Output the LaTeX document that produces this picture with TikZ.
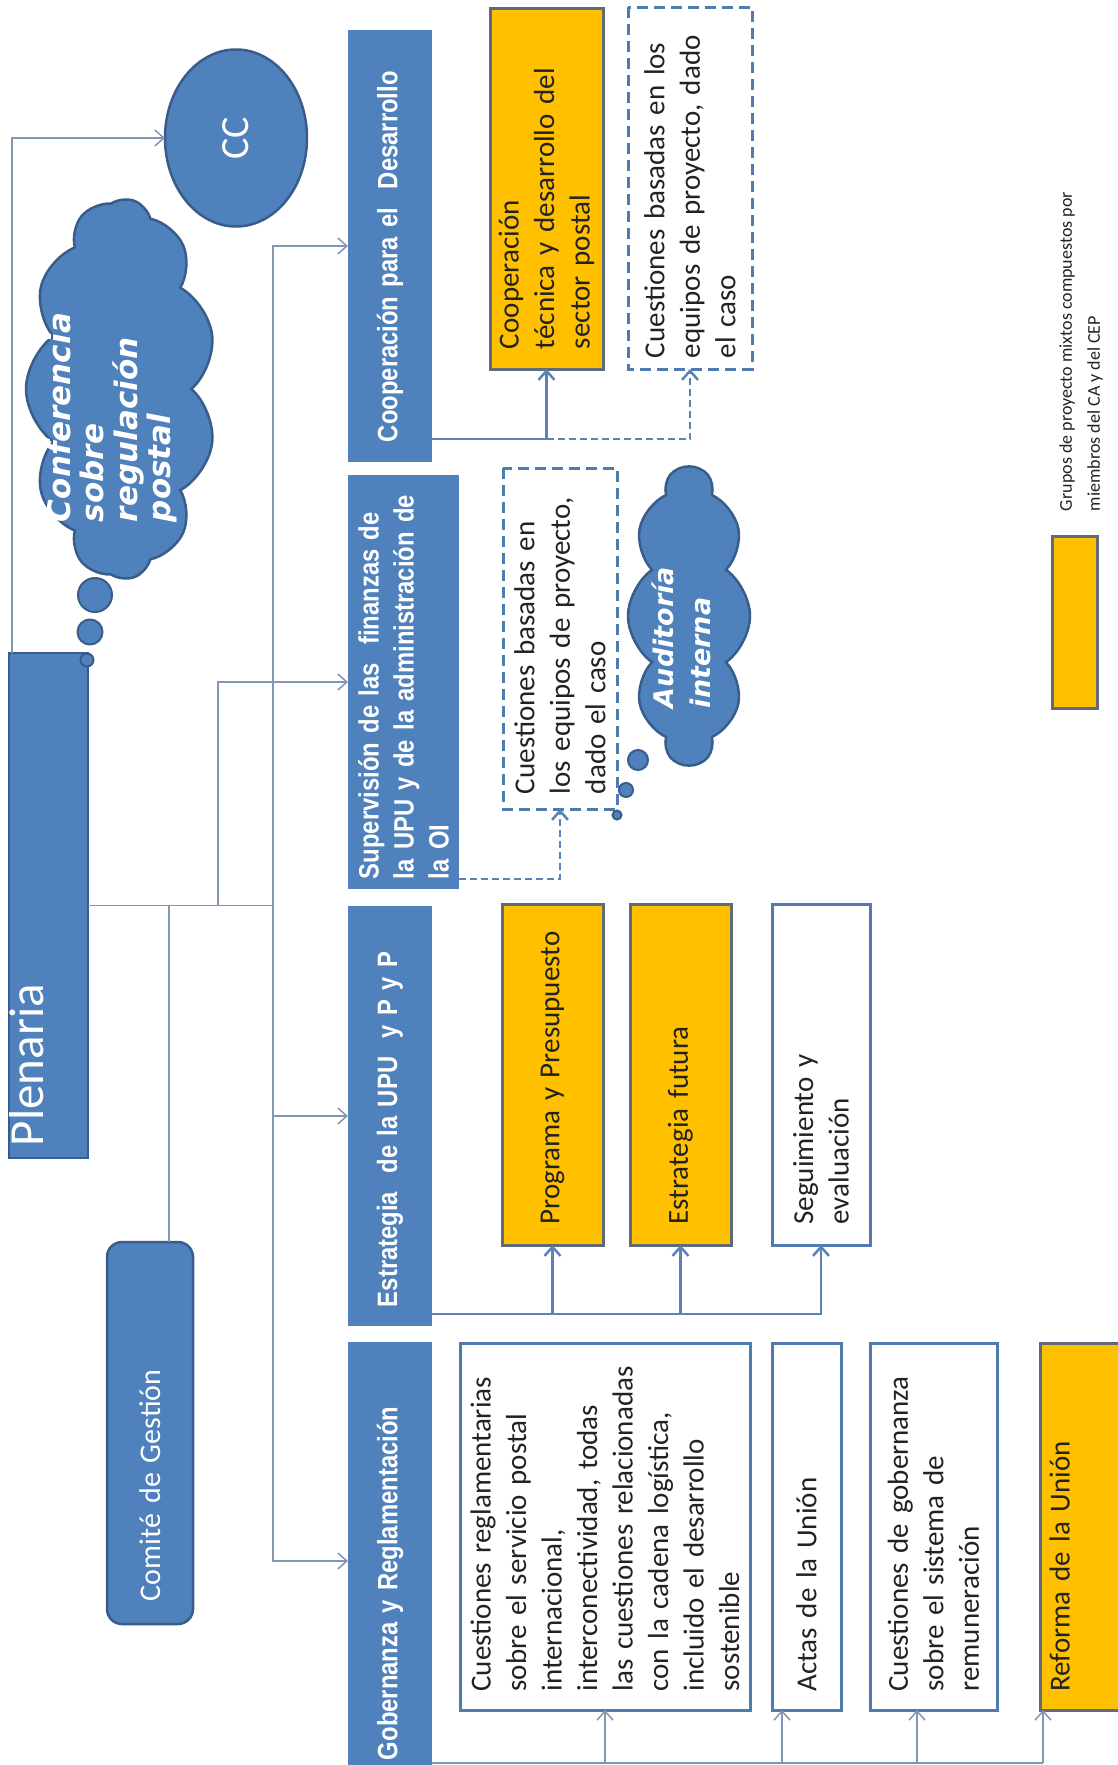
\documentclass[tikz,border=0pt]{standalone}
\usepackage{fontspec}
\setmainfont{Carlito}
\newfontfamily\hdrfont{Liberation Sans}[FakeStretch=0.85]
\newfontfamily\cloudfont{DejaVu Sans}[BoldFont={DejaVu Sans Bold},ItalicFont={DejaVu Sans Oblique},BoldItalicFont={DejaVu Sans Bold Oblique}]
\usetikzlibrary{shapes.geometric,shapes.symbols,arrows.meta,calc}
\definecolor{ublue}{HTML}{4F81BD}
\definecolor{udark}{HTML}{385D8A}
\definecolor{uorange}{HTML}{FFC000}
\definecolor{ugrey}{HTML}{5F6B78}
\definecolor{uline}{HTML}{8097B4}
\definecolor{uline2}{HTML}{5A84B8}
\definecolor{ubord}{HTML}{4F7BB0}
\definecolor{utext}{HTML}{222222}
\begin{document}
\begin{tikzpicture}[x=1pt,y=-1pt,
  every node/.style={inner sep=0pt, outer sep=0pt},
  hdr/.style={rotate=90, fill=ublue, text=white, font=\hdrfont\bfseries\fontsize{28}{35}\selectfont, align=left},
  subbox/.style={rotate=90, draw, line width=3pt, text=utext, font=\fontsize{29}{35.5}\selectfont, align=left},
  orangebox/.style={subbox, fill=uorange, draw=ugrey},
  whitebox/.style={subbox, fill=white, draw=ubord},
  dashbox/.style={subbox, fill=white, draw=ubord, dash pattern=on 11pt off 6pt},
  conn/.style={draw=uline, line width=1.5pt},
  conn2/.style={draw=uline2, line width=2.5pt},
  tip/.style={-{Straight Barb[length=9pt,width=16pt]}},
  bubble/.style={circle, fill=ublue, draw=udark, line width=2pt},
  cloudbox/.style={cloud, cloud ignores aspect, rotate=90, fill=ublue, draw=udark, line width=2.5pt},
  cloudtxt/.style={rotate=90, text=white, align=left, anchor=west}
]
\useasboundingbox (0,0) rectangle (1118,1765);
\fill[white] (0,0) rectangle (1118,1765);

% Plenaria
\node[rotate=90, fill=ublue, draw=udark, line width=2.5pt, minimum width=505pt, minimum height=79pt] (plen) at (48.5,905.5) {};
\node[rotate=90, anchor=base west, text=white, font=\fontsize{49}{52}\selectfont] (plentxt) at (43,1146) {Plenaria};

% CC
\node[ellipse, rotate=90, fill=ublue, draw=udark, line width=2.5pt, minimum width=177pt, minimum height=142pt, text=white, font=\fontsize{40}{44}\selectfont] (cc) at (236,138) {CC};

% Conferencia cloud
\node[cloudbox, cloud puffs=11, cloud puff arc=110, minimum width=380pt, minimum height=190pt] (conf) at (121,389) {};
\node[cloudtxt, font=\cloudfont\bfseries\itshape\fontsize{31}{33.5}\selectfont] (conftxt) at (112,522) {Conferencia\\sobre\\regulación\\postal};
\node[bubble, minimum size=34pt] (b1) at (95,595) {};
\node[bubble, minimum size=25pt] (b2) at (90,632) {};
\node[bubble, minimum size=13pt] (b3) at (87,660) {};

% Comite
\node[rotate=90, fill=ublue, draw=udark, line width=2.5pt, rounded corners=15pt, minimum width=382pt, minimum height=86pt, text width=336pt, align=left, text=white, font=\fontsize{30}{36}\selectfont] (comite) at (150,1433) {Comité de Gestión};

% Headers
\node[hdr, minimum width=432pt, minimum height=84pt, text width=392pt] (coop) at (390,246) {\mbox{Cooperación para el\ \ Desarrollo}};
\node[hdr, minimum width=414pt, minimum height=111pt, text width=394pt] (sup) at (403.5,682) {\mbox{Supervisión de las\ \ finanzas de}\\\mbox{la UPU y de la administración de}\\la OI};
\node[hdr, minimum width=420pt, minimum height=84pt, text width=382pt] (estr) at (390,1116) {\mbox{Estrategia\ \ de la UPU\ \ y P y P}};
\node[hdr, minimum width=438pt, minimum height=84pt, text width=398pt] (gob) at (390,1561) {\mbox{Gobernanza y Reglamentación}};

% Cooperacion sub boxes
\node[orangebox, minimum width=361pt, minimum height=113pt, text width=321pt] (org1) at (546.5,188.5) {Cooperación\\técnica y desarrollo del\\sector postal};
\node[dashbox, minimum width=362pt, minimum height=124pt, text width=340pt] (cdash) at (690,188) {Cuestiones basadas en los\\equipos de proyecto, dado\\el caso};

% Supervision sub box + cloud
\node[dashbox, minimum width=341pt, minimum height=114pt, text width=311pt] (sdash) at (560,638.5) {Cuestiones basadas en\\los equipos de proyecto,\\dado el caso};
\node[cloudbox, cloud puffs=10, cloud puff arc=110, minimum width=297pt, minimum height=122pt] (aud) at (689,616) {};
\node[cloudtxt, font=\cloudfont\bfseries\itshape\fontsize{27}{37}\selectfont] (audtxt) at (681,708) {Auditoría\\interna};
\node[bubble, minimum size=20pt] (a1) at (638,760) {};
\node[bubble, minimum size=14pt] (a2) at (626,790) {};
\node[bubble, minimum size=9pt] (a3) at (617,815) {};

% Estrategia sub boxes
\node[orangebox, minimum width=341pt, minimum height=101pt, text width=300pt] (prog) at (552.5,1074.5) {Programa y Presupuesto};
\node[orangebox, minimum width=341pt, minimum height=101pt, text width=300pt] (efut) at (680.5,1074.5) {Estrategia futura};
\node[whitebox, minimum width=341pt, minimum height=98pt, text width=300pt] (seg) at (821,1074.5) {Seguimiento y\\evaluación};

% Gobernanza sub boxes
\node[whitebox, minimum width=367pt, minimum height=290pt, text width=330pt] (cr) at (605,1526.5) {Cuestiones reglamentarias\\sobre el servicio postal\\internacional,\\interconectividad, todas\\las cuestiones relacionadas\\con la cadena logística,\\incluido el desarrollo\\sostenible};
\node[whitebox, minimum width=367pt, minimum height=69pt, text width=330pt] (actas) at (806.5,1526.5) {Actas de la Unión};
\node[whitebox, minimum width=367pt, minimum height=127pt, text width=330pt] (cg) at (933.5,1526.5) {Cuestiones de gobernanza\\sobre el sistema de\\remuneración};
\node[orangebox, minimum width=367pt, minimum height=85pt, text width=330pt, text height=22pt, text depth=48pt] (reform) at (1082.5,1526.5) {Reforma de la Unión};

% Legend
\node[rotate=90, fill=uorange, draw=ugrey, line width=3pt, minimum width=172pt, minimum height=45pt] (leg) at (1074.5,622) {};
\node[rotate=90, anchor=west, align=left, text=utext, font=\fontsize{18}{28}\selectfont] (legtxt) at (1081,511) {Grupos de proyecto mixtos compuestos por\\miembros del CA y del CEP};

% Connectors
\coordinate (tj) at (273,905.5);
\coordinate (sj) at (218,905.5);
\coordinate (cj) at (169,905.5);
\draw[conn] (plen.south) -- (tj);
\draw[conn,tip] (tj) |- (coop);
\draw[conn,tip] (tj) |- (estr);
\draw[conn,tip] (tj) |- (gob);
\draw[conn,tip] (sj) |- (sup);
\draw[conn] (cj) -- (cj |- comite.east);
\draw[conn,tip] ([xshift=3pt]plen.north east) |- (cc);

\coordinate (c1) at ([yshift=23pt]coop.south west);
\draw[conn2,tip] (c1) -| (org1);
\draw[conn2,tip,dash pattern=on 7pt off 4pt] (c1 -| org1) -| (cdash);

\coordinate (s1) at ([yshift=10pt]sup.south west);
\draw[conn2,tip,dash pattern=on 7pt off 4pt] (s1) -| (sdash);

\coordinate (e1) at ([yshift=12pt]estr.south west);
\draw[conn2,tip] (e1) -| (seg);
\draw[conn2,tip] (e1 -| prog) -- (prog);
\draw[conn2,tip] (e1 -| efut) -- (efut);

\coordinate (g1) at ([yshift=17pt]gob.south west);
\coordinate (ta) at ([xshift=-24.5pt]actas.west);
\coordinate (tg) at ([xshift=-16.5pt]cg.west);
\coordinate (tr) at ([xshift=-39.5pt]reform.west);
\draw[conn] (g1) -- (g1 -| tr);
\draw[conn,tip] (g1 -| cr) -- (cr);
\draw[conn,tip] (g1 -| ta) -- (ta);
\draw[conn,tip] (g1 -| tg) -- (tg);
\draw[conn,tip] (g1 -| tr) -- (tr);
\end{tikzpicture}
\end{document}
